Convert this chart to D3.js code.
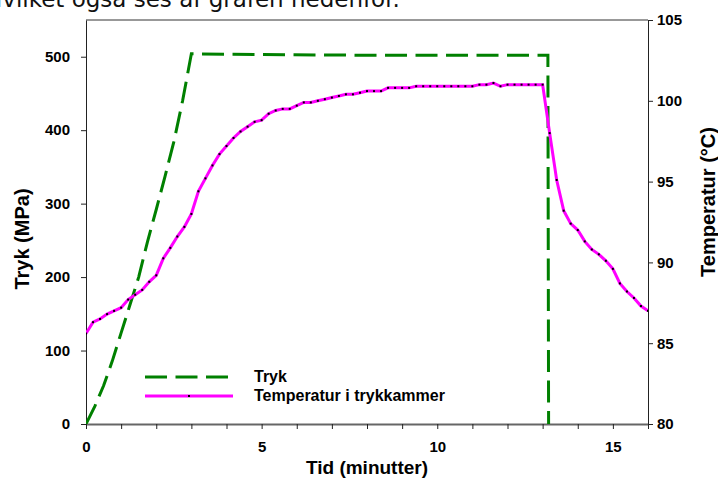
<html>
<head>
<meta charset="utf-8">
<script src="https://cdn.jsdelivr.net/npm/d3@7"></script>
<style>
  body { margin: 0; background: #fff; }
  svg text { font-family: "Liberation Sans", Arial, sans-serif; }
</style>
</head>
<body>
<svg id="chart"></svg>
<script>
// tryk (MPa) mod tid (min)
var trykTid = [0, 0.25, 0.5, 0.75, 1.0, 1.25, 1.5, 1.75, 2.0, 2.25, 2.5, 2.75, 3.0, 5.0, 8.0, 13.15, 13.17];
var tryk    = [0, 24, 52, 86, 124, 162, 200, 248, 292, 337, 384, 440, 504, 503, 502, 502, 0];

// temperatur (°C), en måling hvert 0.2 min
var tempTid = [0, 0.2, 0.4, 0.6, 0.8, 1.0, 1.2, 1.4, 1.6, 1.8,
  2.0, 2.2, 2.4, 2.6, 2.8, 3.0, 3.2, 3.4, 3.6, 3.8,
  4.0, 4.2, 4.4, 4.6, 4.8, 5.0, 5.2, 5.4, 5.6, 5.8,
  6.0, 6.2, 6.4, 6.6, 6.8, 7.0, 7.2, 7.4, 7.6, 7.8,
  8.0, 8.2, 8.4, 8.6, 8.8, 9.0, 9.2, 9.4, 9.6, 9.8,
  10.0, 10.2, 10.4, 10.6, 10.8, 11.0, 11.2, 11.4, 11.6, 11.8,
  12.0, 12.2, 12.4, 12.6, 12.8, 13.0, 13.2, 13.4, 13.6, 13.8,
  14.0, 14.2, 14.4, 14.6, 14.8, 15.0, 15.2, 15.4, 15.6, 15.8, 16.0];
var temp = [85.6, 86.3, 86.5, 86.8, 87.0, 87.2, 87.7, 88.0, 88.3, 88.8,
  89.2, 90.25, 90.9, 91.6, 92.2, 93.0, 94.4, 95.2, 96.0, 96.7,
  97.2, 97.7, 98.1, 98.4, 98.7, 98.8, 99.2, 99.4, 99.5, 99.5,
  99.7, 99.9, 99.9, 100.0, 100.1, 100.2, 100.3, 100.4, 100.4, 100.5,
  100.6, 100.6, 100.6, 100.8, 100.8, 100.8, 100.8, 100.9, 100.9, 100.9,
  100.9, 100.9, 100.9, 100.9, 100.9, 100.9, 101.0, 101.0, 101.1, 100.9,
  101.0, 101.0, 101.0, 101.0, 101.0, 101.0, 98.0, 95.1, 93.2, 92.4,
  92.0, 91.3, 90.8, 90.5, 90.1, 89.6, 88.7, 88.2, 87.8, 87.3, 87.0];

var xTicks = [0, 5, 10, 15];
var yTicks = [0, 100, 200, 300, 400, 500];
var y2Ticks = [80, 85, 90, 95, 100, 105];

var width = 718, height = 478;
var mLeft = 86, mRight = 648, mTop = 20, mBottom = 424;

var svg = d3.select("#chart").attr("width", width).attr("height", height);

var x = d3.scaleLinear().domain([0, 16]).range([mLeft, mRight]);
var y = d3.scaleLinear().domain([0, 550]).range([mBottom, mTop]);
var y2 = d3.scaleLinear().domain([80, 105]).range([mBottom, mTop]);

// overskrift der er skåret af i toppen
svg.append("text")
  .attr("x", -15).attr("y", 7)
  .attr("font-size", 23)
  .style("font-family", "'DejaVu Sans', sans-serif")
  .attr("fill", "#111")
  .text("Hvilket også ses af grafen nedenfor.");

svg.append("defs").append("clipPath").attr("id", "plot")
  .append("rect").attr("x", mLeft).attr("y", mTop)
  .attr("width", mRight - mLeft).attr("height", mBottom - mTop);

// ramme
svg.append("line").attr("x1", mLeft).attr("x2", mRight).attr("y1", mTop).attr("y2", mTop)
  .attr("stroke", "#333");

var fmtAxis = function(g) {
  g.selectAll("text").attr("font-size", 15).attr("font-weight", "bold").attr("fill", "#000");
  g.selectAll("line").attr("stroke", "#222");
};

svg.append("g").attr("transform", "translate(0," + mBottom + ")")
  .call(d3.axisBottom(x).tickValues(d3.range(0, 17, 1)).tickSize(5).tickSizeOuter(0)
    .tickFormat(d => xTicks.includes(d) ? d : ""))
  .call(fmtAxis)
  .call(g => g.select(".domain").attr("stroke", "#666").attr("stroke-width", 2))
  .call(g => g.selectAll("text").attr("dy", "1.3em"));

svg.append("g").attr("transform", "translate(" + mLeft + ",0)")
  .call(d3.axisLeft(y).tickValues(yTicks).tickSize(5).tickSizeOuter(0).tickPadding(11))
  .call(fmtAxis)
  .call(g => g.select(".domain").attr("stroke", "#222"));

svg.append("g").attr("transform", "translate(" + mRight + ",0)")
  .call(d3.axisRight(y2).tickValues(y2Ticks).tickSize(5).tickSizeOuter(0).tickPadding(4))
  .call(fmtAxis)
  .call(g => g.select(".domain").attr("stroke", "#222"));

// aksetitler
svg.append("text")
  .attr("transform", "translate(29,239) rotate(-90)")
  .attr("text-anchor", "middle").attr("font-size", 20).attr("font-weight", "bold")
  .text("Tryk (MPa)");
svg.append("text")
  .attr("transform", "translate(715,202) rotate(-90)")
  .attr("text-anchor", "middle").attr("font-size", 20).attr("font-weight", "bold")
  .text("Temperatur (°C)");
svg.append("text")
  .attr("x", (mLeft + mRight) / 2).attr("y", 474)
  .attr("text-anchor", "middle").attr("font-size", 19).attr("font-weight", "bold")
  .text("Tid (minutter)");

var plot = svg.append("g").attr("clip-path", "url(#plot)");

var trykLine = d3.line().x((d, i) => x(trykTid[i])).y(d => y(d));
plot.append("path")
  .attr("d", trykLine(tryk))
  .attr("fill", "none").attr("stroke", "#008000").attr("stroke-width", 3)
  .attr("stroke-dasharray", "22,8.5");

var tempLine = d3.line().x((d, i) => x(tempTid[i])).y(d => y2(d));
plot.append("path")
  .attr("d", tempLine(temp))
  .attr("fill", "none").attr("stroke", "#ff00ff").attr("stroke-width", 3);

plot.selectAll("rect.dot").data(temp).join("rect")
  .attr("class", "dot")
  .attr("x", (d, i) => x(tempTid[i]) - 1).attr("y", d => y2(d) - 1)
  .attr("width", 2).attr("height", 2).attr("fill", "#000");

// legend
var lg = svg.append("g");
lg.append("line").attr("x1", 145).attr("x2", 232).attr("y1", 377).attr("y2", 377)
  .attr("stroke", "#008000").attr("stroke-width", 3).attr("stroke-dasharray", "22,8.5");
lg.append("line").attr("x1", 145).attr("x2", 233).attr("y1", 396).attr("y2", 396)
  .attr("stroke", "#ff00ff").attr("stroke-width", 3);
lg.append("rect").attr("x", 188).attr("y", 395).attr("width", 2).attr("height", 2).attr("fill", "#000");
lg.append("text").attr("x", 254).attr("y", 382).attr("font-size", 16).attr("font-weight", "bold").text("Tryk");
lg.append("text").attr("x", 254).attr("y", 401).attr("font-size", 16).attr("font-weight", "bold").text("Temperatur i trykkammer");
</script>
</body>
</html>
